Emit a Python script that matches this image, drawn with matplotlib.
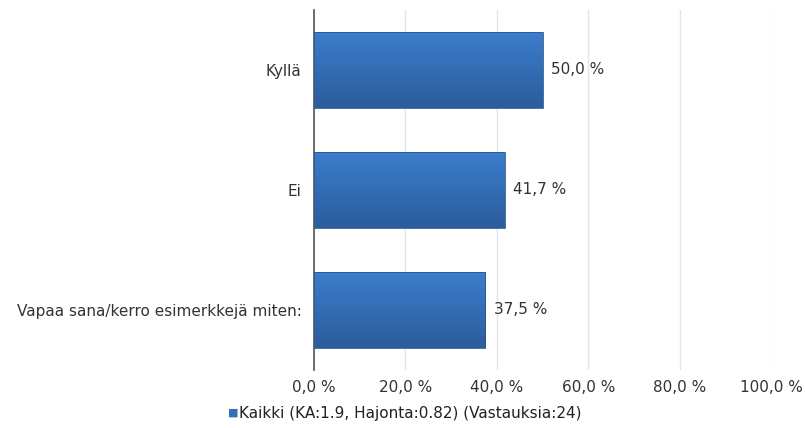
import numpy as np
import matplotlib.pyplot as plt
from matplotlib.patches import Rectangle
from matplotlib.colors import LinearSegmentedColormap

plt.rcParams['font.family'] = ['DejaVu Sans']

categories = ["Kyllä", "Ei", "Vapaa sana/kerro esimerkkejä miten:"]
values = [50.0, 41.7, 37.5]
xticks = [0, 20, 40, 60, 80, 100]
legend_label = "Kaikki (KA:1.9, Hajonta:0.82) (Vastauksia:24)"

fs = 11

fig = plt.figure(figsize=(8.05, 4.28), dpi=100)
ax = fig.add_axes([0.390, 0.136, 0.568, 0.841])

ypos = np.arange(len(categories))
bar_h = 0.63
grad = np.linspace(0, 1, 100).reshape(-1, 1)
cmap = LinearSegmentedColormap.from_list("b", ["#3b7dcc", "#2c5d9c"])
for y, v in zip(ypos, values):
    # ylim is inverted, so origin="lower" puts the light end at the top
    ax.imshow(grad, extent=[0, v, y - bar_h / 2, y + bar_h / 2], aspect="auto",
              cmap=cmap, origin="lower", zorder=3)
    ax.add_patch(Rectangle((0, y - bar_h / 2), v, bar_h, fill=False,
                           edgecolor="#2a5892", linewidth=0.6, zorder=4))
    ax.text(v + 1.8, y, f"{v:.1f} %".replace(".", ","), va="center", ha="left",
            fontsize=fs, color="#333333")

ax.set_xlim(0, 100)
ax.set_ylim(len(categories) - 0.5, -0.5)
ax.set_yticks(ypos)
ax.set_yticklabels(categories, fontsize=fs, color="#333333")
ax.set_xticks(xticks)
ax.set_xticklabels([f"{t:.1f} %".replace(".", ",") for t in xticks], fontsize=fs, color="#333333")
ax.tick_params(axis="y", length=0, pad=9)
ax.tick_params(axis="x", length=0, pad=7)
ax.grid(axis="x", color="#dde6f0", linewidth=1, zorder=0)
ax.set_axisbelow(True)
for s in ["top", "right", "bottom"]:
    ax.spines[s].set_visible(False)
ax.spines["left"].set_color("#555555")
ax.spines["left"].set_linewidth(1.2)

fig.text(0.283, 0.036, "■", fontsize=8, color="#3470b8", va="center", ha="left")
fig.text(0.297, 0.034, legend_label, fontsize=fs, color="#222222", va="center", ha="left")

fig.savefig("out.png", dpi=100)
